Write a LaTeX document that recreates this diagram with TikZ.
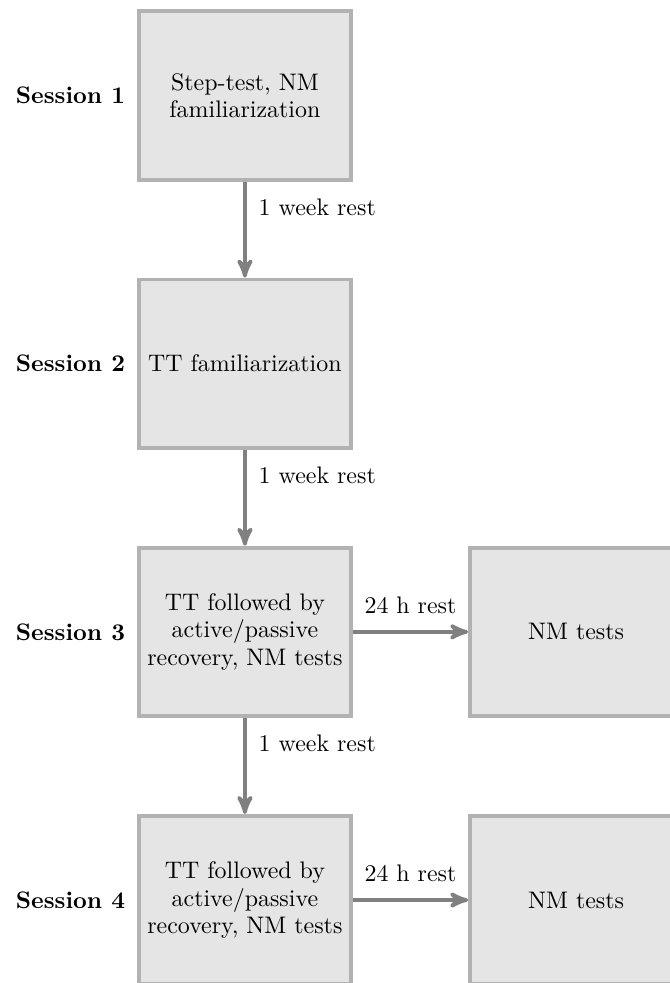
\documentclass[tikz,border=0pt]{standalone}
\usepackage{tikz}
\usetikzlibrary{arrows,positioning}
\tikzset{
    %Define standard arrow tip
    >=stealth',
    %Define style for session boxes
    sessionbox/.style={
             rectangle,
             draw=black!30, fill=black!10,
             line width=1.7pt,
             minimum width=94.9pt, minimum height=75.3pt,
             align=center,
             font=\fontsize{10.7}{12.2}\selectfont},
    sessionlabel/.style={
             font=\fontsize{10.7}{12.2}\selectfont\bfseries},
    % Define arrow style
    restarrow/.style={
            ->,
            draw=black!50,
            line width=1.7pt,
            font=\fontsize{10.7}{12.2}\selectfont}
}
\begin{document}
\begin{tikzpicture}[node distance=42.9pt, auto,]
 \useasboundingbox (-109.5pt,-396.8pt) rectangle (190pt,42.7pt);
 \node[sessionbox] (s1) at (0,0) {Step-test, NM\\familiarization};
 \node[sessionbox, below=of s1] (s2) {TT familiarization};
 \node[sessionbox, below=of s2] (s3) {TT followed by\\active/passive\\recovery, NM tests};
 \node[sessionbox, below=of s3] (s4) {TT followed by\\active/passive\\recovery, NM tests};
 \node[sessionbox, right=51.5pt of s3] (nm3) {NM tests};
 \node[sessionbox, right=51.5pt of s4] (nm4) {NM tests};
 \node[sessionlabel, left=1.7pt of s1] (l1) {Session 1};
 \node[sessionlabel, left=1.7pt of s2] (l2) {Session 2};
 \node[sessionlabel, left=1.7pt of s3] (l3) {Session 3};
 \node[sessionlabel, left=1.7pt of s4] (l4) {Session 4};
 \path (s1) edge[restarrow] node[above right, xshift=2pt, yshift=2pt] {1 week rest} (s2)
       (s2) edge[restarrow] node[above right, xshift=2pt, yshift=2pt] {1 week rest} (s3)
       (s3) edge[restarrow] node[above right, xshift=2pt, yshift=2pt] {1 week rest} (s4)
       (s3) edge[restarrow] node[above, yshift=4pt] {24 h rest} (nm3)
       (s4) edge[restarrow] node[above, yshift=4pt] {24 h rest} (nm4);
\end{tikzpicture}
\end{document}
